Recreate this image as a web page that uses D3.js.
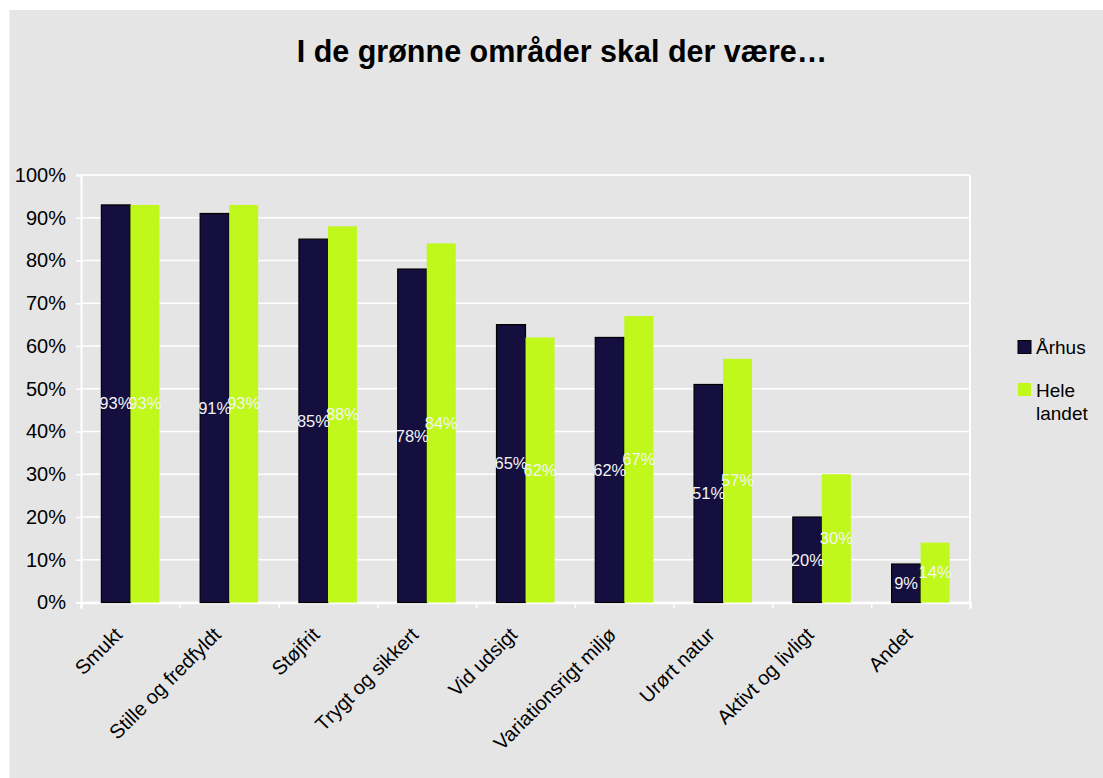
<!DOCTYPE html>
<html>
<head>
<meta charset="utf-8">
<script src="https://cdn.jsdelivr.net/npm/d3@7"></script>
<style>
  html, body { margin: 0; padding: 0; background: #ffffff; }
  svg { display: block; }
  text { font-family: Arial, "Liberation Sans", sans-serif; }
</style>
</head>
<body>
<svg id="chart" width="1103" height="778"></svg>
<script>
const categories = ["Smukt", "Stille og fredfyldt", "Støjfrit", "Trygt og sikkert", "Vid udsigt", "Variationsrigt miljø", "Urørt natur", "Aktivt og livligt", "Andet"];
const aarhus = [93, 91, 85, 78, 65, 62, 51, 20, 9];
const heleLandet = [93, 93, 88, 84, 62, 67, 57, 30, 14];
const seriesNames = ["Århus", "Hele landet"];
const yTicks = [0, 10, 20, 30, 40, 50, 60, 70, 80, 90, 100];
const title = "I de grønne områder skal der være…";

const colors = ["#140f3f", "#bff81a"];
const svg = d3.select("#chart");
const W = 1103, H = 778;
const plot = { left: 81, right: 970, top: 175, bottom: 602.5 };

// background
svg.append("rect").attr("x", 9.5).attr("y", 10).attr("width", W - 9.5).attr("height", H - 10).attr("fill", "#e5e5e5");

// title
svg.append("text").attr("x", 562).attr("y", 62).attr("text-anchor", "middle")
  .attr("font-size", 30.5).attr("font-weight", "bold").attr("fill", "#000").text(title);

const x = d3.scaleBand().domain(categories).range([plot.left, plot.right]);
const y = d3.scaleLinear().domain([0, 100]).range([plot.bottom, plot.top]);

// gridlines
svg.append("g").selectAll("line").data(yTicks).join("line")
  .attr("x1", plot.left).attr("x2", plot.right)
  .attr("y1", d => y(d)).attr("y2", d => y(d))
  .attr("stroke", "#ffffff").attr("stroke-width", 1.5);
// right border
svg.append("line").attr("x1", plot.right).attr("x2", plot.right).attr("y1", plot.top).attr("y2", plot.bottom)
  .attr("stroke", "#fff").attr("stroke-width", 2);

// y axis
const yAxis = d3.axisLeft(y).tickValues(yTicks).tickFormat(d => d + "%").tickSize(5).tickPadding(10);
const gy = svg.append("g").attr("transform", `translate(${plot.left},0)`).call(yAxis);
gy.select(".domain").attr("stroke", "#fff").attr("stroke-width", 2);
gy.selectAll(".tick line").attr("stroke", "#fff").attr("stroke-width", 1.5);
gy.selectAll(".tick text").attr("font-size", 20).attr("fill", "#000").attr("font-family", "Arial, 'Liberation Sans', sans-serif");

// x axis (ticks between categories)
const xb = d3.scaleLinear().domain([0, categories.length]).range([plot.left, plot.right]);
const gx = svg.append("g").attr("transform", `translate(0,${plot.bottom})`)
  .call(d3.axisBottom(xb).tickValues(d3.range(categories.length + 1)).tickSize(6).tickFormat(""));
gx.select(".domain").attr("stroke", "#fff").attr("stroke-width", 2.5);
gx.selectAll(".tick line").attr("stroke", "#fff").attr("stroke-width", 1.5);

// category labels
svg.append("g").selectAll("text").data(categories).join("text")
  .attr("text-anchor", "end")
  .attr("transform", d => `translate(${x(d) + x.bandwidth() / 2 - 7},${636}) rotate(-45)`)
  .attr("font-size", 20).attr("fill", "#000").text(d => d);

// bars
const barW = 29;
const series = [aarhus, heleLandet];
series.forEach((vals, si) => {
  const g = svg.append("g");
  g.selectAll("rect").data(vals).join("rect")
    .attr("x", (d, i) => x(categories[i]) + x.bandwidth() / 2 - barW + si * barW)
    .attr("y", d => y(d))
    .attr("width", barW)
    .attr("height", d => plot.bottom - y(d))
    .attr("fill", colors[si])
    .attr("stroke", si === 0 ? "#000" : "none")
    .attr("stroke-width", si === 0 ? 1.2 : 0);
});
series.forEach((vals, si) => {
  svg.append("g").selectAll("text").data(vals).join("text")
    .attr("x", (d, i) => x(categories[i]) + x.bandwidth() / 2 - barW / 2 + si * barW)
    .attr("y", d => y(d / 2))
    .attr("dy", "0.35em")
    .attr("text-anchor", "middle")
    .attr("font-size", 16.5).attr("fill", "#f4f4f4")
    .text(d => d + "%");
});

// legend
const legend = svg.append("g");
legend.append("rect").attr("x", 1018).attr("y", 340.5).attr("width", 13).attr("height", 13)
  .attr("fill", colors[0]).attr("stroke", "#000").attr("stroke-width", 1);
legend.append("text").attr("x", 1036).attr("y", 353.5).attr("font-size", 19).attr("fill", "#000").text(seriesNames[0]);
legend.append("rect").attr("x", 1018).attr("y", 383).attr("width", 13).attr("height", 13)
  .attr("fill", colors[1]);
const parts = seriesNames[1].split(" ");
legend.append("text").attr("x", 1036).attr("y", 396.5).attr("font-size", 19).attr("fill", "#000").text(parts[0]);
legend.append("text").attr("x", 1036).attr("y", 420).attr("font-size", 19).attr("fill", "#000").text(parts[1]);
</script>
</body>
</html>
